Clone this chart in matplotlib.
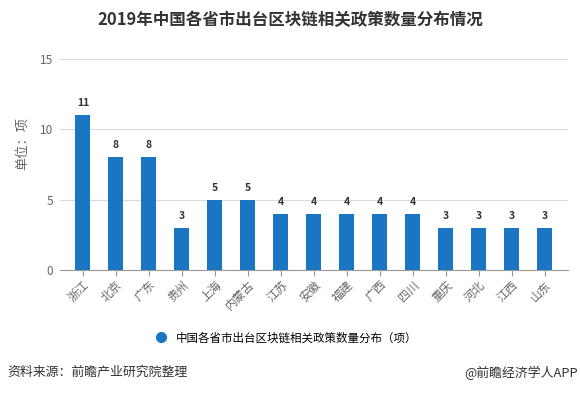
import matplotlib.pyplot as plt
from matplotlib.lines import Line2D

plt.rcParams['font.family'] = ['Noto Sans CJK SC', 'DejaVu Sans']

provinces = ['浙江', '北京', '广东', '贵州', '上海', '内蒙古', '江苏', '安徽',
             '福建', '广西', '四川', '重庆', '河北', '江西', '山东']
counts = [11, 8, 8, 3, 5, 5, 4, 4, 4, 4, 4, 3, 3, 3, 3]
yticks = [0, 5, 10, 15]

bar_color = '#1a76c3'
grey = '#666666'

fig = plt.figure(figsize=(5.8, 3.93), dpi=100)
ax = fig.add_axes([0.103, 0.313, 0.876, 0.537])

x = range(len(provinces))
ax.bar(x, counts, width=0.45, color=bar_color, zorder=3)
for i, v in zip(x, counts):
    ax.text(i, v + 0.5, str(v), ha='center', va='bottom', fontsize=7.5,
            fontweight='bold', color='#333333')

ax.set_xlim(-0.7, len(provinces) - 0.3)
ax.set_ylim(0, 15)
ax.set_yticks(yticks)
ax.set_xticks(list(x))
ax.set_xticklabels(provinces, rotation=45, ha='right', rotation_mode='anchor',
                   fontsize=8.5, color=grey)
ax.tick_params(axis='y', length=0, labelsize=8.5, labelcolor=grey, pad=4.5)
ax.tick_params(axis='x', length=4, color='#999999', pad=2)
ax.grid(axis='y', color='#d9d9d9', linewidth=0.8, zorder=0)
for s in ['top', 'right', 'left']:
    ax.spines[s].set_visible(False)
ax.spines['bottom'].set_color('#999999')
ax.set_ylabel('单位：项', fontsize=9.5, color=grey)
ax.yaxis.set_label_coords(-0.061, 0.6)

fig.text(0.5, 0.948, '2019年中国各省市出台区块链相关政策数量分布情况',
         ha='center', va='center', fontsize=11.9, fontweight='bold', color='#333333')

handle = Line2D([], [], marker='o', linestyle='none', markersize=7,
                markerfacecolor=bar_color, markeredgecolor=bar_color)
fig.legend([handle], ['中国各省市出台区块链相关政策数量分布（项）'],
           loc='center', bbox_to_anchor=(0.488, 0.14), frameon=False,
           fontsize=8.3, handletextpad=0.3)

fig.text(0.012, 0.052, '资料来源：前瞻产业研究院整理', ha='left', va='center',
         fontsize=9.3, color='#333333')
fig.text(0.997, 0.052, '@前瞻经济学人APP', ha='right', va='center',
         fontsize=9.3, color='#333333')

fig.savefig('out.png', dpi=100)
